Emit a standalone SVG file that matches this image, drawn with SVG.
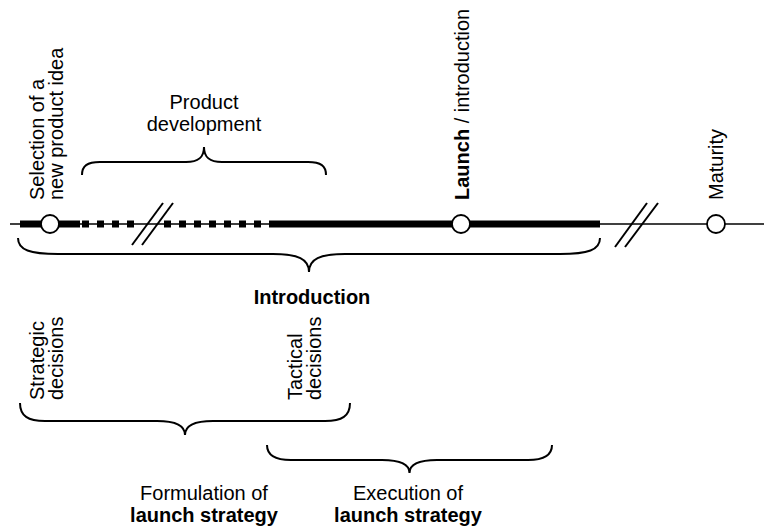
<svg xmlns="http://www.w3.org/2000/svg" width="764" height="530" viewBox="0 0 764 530">
<style>
text{font-family:"Liberation Sans",Arial,sans-serif;font-size:20px;fill:#000}
.b{font-weight:bold}
.thin{stroke:#000;stroke-width:1.5;fill:none}
.thick{fill:#000}
.slash{stroke:#000;stroke-width:2;fill:none}
.brace{stroke:#000;stroke-width:2;fill:none}
.ms{fill:#fff;stroke:#000;stroke-width:1.8}
</style>
<rect width="764" height="530" fill="#fff"/>
<g id="timeline">
<line class="thin" x1="10" y1="224" x2="764" y2="224"/>
<rect class="thick" x="20" y="220.5" width="60" height="7"/>
<rect class="thick" x="82" y="220.5" width="7" height="7"/>
<rect class="thick" x="97" y="220.5" width="7" height="7"/>
<rect class="thick" x="112" y="220.5" width="7" height="7"/>
<rect class="thick" x="127" y="220.5" width="7" height="7"/>
<rect class="thick" x="164" y="220.5" width="7" height="7"/>
<rect class="thick" x="179" y="220.5" width="7" height="7"/>
<rect class="thick" x="194" y="220.5" width="7" height="7"/>
<rect class="thick" x="209" y="220.5" width="7" height="7"/>
<rect class="thick" x="224" y="220.5" width="7" height="7"/>
<rect class="thick" x="239" y="220.5" width="7" height="7"/>
<rect class="thick" x="254" y="220.5" width="7" height="7"/>
<rect class="thick" x="269" y="220.5" width="331" height="7"/>
<line class="slash" x1="132" y1="245" x2="163" y2="203"/>
<line class="slash" x1="142" y1="245" x2="173" y2="203"/>
<line class="slash" x1="615" y1="247" x2="647" y2="203"/>
<line class="slash" x1="625" y1="247" x2="658" y2="203"/>
</g>
<g id="selection">
<circle class="ms" cx="50" cy="224" r="9"/>
<text transform="translate(44,200) rotate(-90)">Selection of a</text>
<text transform="translate(63,200) rotate(-90)">new product idea</text>
</g>
<g id="launch">
<circle class="ms" cx="461" cy="224" r="9"/>
<text transform="translate(469,200) rotate(-90)"><tspan class="b">Launch</tspan> / introduction</text>
</g>
<g id="maturity">
<circle class="ms" cx="716" cy="224" r="9"/>
<text transform="translate(723,200) rotate(-90)">Maturity</text>
</g>
<g id="product-development">
<text x="204" y="109" text-anchor="middle">Product</text>
<text x="204" y="131" text-anchor="middle">development</text>
</g>
<g id="introduction">
<text class="b" x="312" y="304" text-anchor="middle">Introduction</text>
</g>
<g id="strategic">
<text transform="translate(44,400) rotate(-90)">Strategic</text>
<text transform="translate(63,400) rotate(-90)">decisions</text>
</g>
<g id="tactical">
<text transform="translate(302,400) rotate(-90)">Tactical</text>
<text transform="translate(321,400) rotate(-90)">decisions</text>
</g>
<g id="formulation">
<text x="204" y="500" text-anchor="middle">Formulation of</text>
<text class="b" x="204" y="522" text-anchor="middle">launch strategy</text>
</g>
<g id="execution">
<text x="408" y="500" text-anchor="middle">Execution of</text>
<text class="b" x="408" y="522" text-anchor="middle">launch strategy</text>
</g>
<g id="connectors">
<path class="brace" d="M82 175 C82 166 87 162 100 162 L186 162 C199 162 204 157 204 147 C204 157 209 162 222 162 L308 162 C321 162 326 166 326 175"/>
<path class="brace" d="M18 238 C18 250 30 254 58 254 L273 254 C298 254 309 259 309 272 C309 259 320 254 345 254 L560 254 C588 254 600 250 600 238"/>
<path class="brace" d="M20 403 C20 416 28 421 45 421 L157 421 C177 421 185 426 185 435 C185 426 193 421 213 421 L325 421 C342 421 350 416 350 403"/>
<path class="brace" d="M267 445 C267 455 274 460 291 460 L382 460 C401 460 409.5 465 409.5 473 C409.5 465 418 460 437 460 L528 460 C545 460 552 455 552 445"/>
</g>
</svg>
